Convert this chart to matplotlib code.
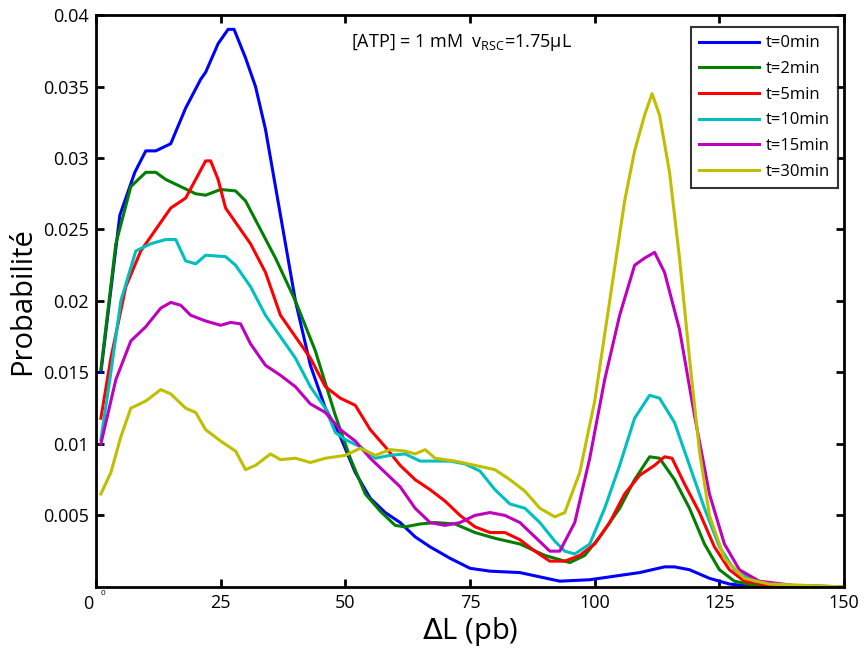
import numpy as np
import matplotlib
matplotlib.use('Agg')
import matplotlib.pyplot as plt

plt.rcParams['font.family'] = ['Open Sans', 'DejaVu Sans']

# Daten
x0 = [1, 4.8, 7.8, 10, 12, 15, 18, 21, 22, 24.5, 26.5, 27.7, 30, 32, 34, 37, 40, 43, 46, 49,
      52, 55, 58, 61, 64, 67, 71, 75, 79, 85, 89, 93, 99, 103, 109, 114, 116, 119, 123, 127, 131, 140, 150]
y0 = [0.015, 0.026, 0.029, 0.0305, 0.0305, 0.031, 0.0335, 0.0355, 0.036, 0.038, 0.039, 0.039, 0.037,
      0.035, 0.032, 0.026, 0.020, 0.0155, 0.0125, 0.0105, 0.008, 0.0062, 0.0052, 0.0045, 0.0035,
      0.0028, 0.002, 0.0013, 0.0011, 0.001, 0.0007, 0.0004, 0.0005, 0.0007, 0.001, 0.0014, 0.0014,
      0.0012, 0.0006, 0.0002, 0.00005, 0.0, 0.0]

x2 = [1, 4, 7, 10, 12, 14, 17, 20, 22, 25, 28, 30, 33, 36, 40, 44, 48, 51, 54, 57, 60, 62, 65, 68,
      72, 76, 80, 85, 90, 95, 98, 101, 105, 108, 111, 113, 116, 119, 122, 125, 128, 132, 140, 150]
y2 = [0.0152, 0.024, 0.028, 0.029, 0.029, 0.0285, 0.028, 0.0275, 0.0274, 0.0278, 0.0277, 0.027,
      0.025, 0.023, 0.020, 0.0165, 0.012, 0.009, 0.0065, 0.0053, 0.0043, 0.0042, 0.0044, 0.0045,
      0.0044, 0.0038, 0.0034, 0.003, 0.0022, 0.0017, 0.0022, 0.0035, 0.0055, 0.0075, 0.0091, 0.009,
      0.0075, 0.0055, 0.003, 0.0012, 0.0004, 0.0001, 0.0, 0.0]

x5 = [1, 3, 6, 9, 12, 15, 18, 20, 22, 23, 24.5, 26, 28, 31, 34, 37, 40, 43, 46, 49, 52, 55, 58,
      61, 64, 67, 70, 73, 76, 79, 82, 85, 88, 91, 94, 97, 100, 103, 106, 109, 112, 114, 115.5,
      118, 121, 124, 127, 130, 135, 150]
y5 = [0.0118, 0.016, 0.021, 0.0235, 0.025, 0.0265, 0.0272, 0.0285, 0.0298, 0.0298, 0.0285,
      0.0265, 0.0255, 0.024, 0.022, 0.019, 0.0175, 0.016, 0.014, 0.0132, 0.0127, 0.011, 0.0098,
      0.0085, 0.0075, 0.0068, 0.006, 0.005, 0.0042, 0.0038, 0.0038, 0.0033, 0.0025, 0.0018,
      0.0018, 0.0022, 0.003, 0.0045, 0.0065, 0.0078, 0.0085, 0.0091, 0.009, 0.0072, 0.0052,
      0.0028, 0.0012, 0.0004, 0.0001, 0.0]

x10 = [1, 3, 5, 8, 11, 14, 16, 18, 20, 22, 26, 28, 31, 34, 37, 40, 43, 46, 48, 50, 53, 56, 59,
       62, 65, 68, 71, 74, 77, 80, 83, 86, 89, 92, 94, 96, 99, 102, 105, 108, 111, 113, 116, 119,
       122, 125, 128, 132, 138, 150]
y10 = [0.0103, 0.015, 0.020, 0.0235, 0.024, 0.0243, 0.0243, 0.0228, 0.0226, 0.0232, 0.0231,
       0.0225, 0.021, 0.019, 0.0175, 0.016, 0.014, 0.0125, 0.0108, 0.0103, 0.0098, 0.009, 0.0092,
       0.0093, 0.0088, 0.0088, 0.0088, 0.0086, 0.0081, 0.0068, 0.0058, 0.0055, 0.0045, 0.0032,
       0.0025, 0.0023, 0.003, 0.0055, 0.0085, 0.0118, 0.0134, 0.0132, 0.0115, 0.0085, 0.0055,
       0.0028, 0.0012, 0.0004, 0.0001, 0.0]

x15 = [1, 4, 7, 10, 13, 15, 17, 19, 22, 25, 27, 29, 31, 34, 37, 40, 43, 46, 49, 52, 55, 58, 61,
       64, 67, 70, 73, 76, 79, 82, 85, 88, 91, 93, 96, 99, 102, 105, 108, 110, 112, 114, 117, 120,
       123, 126, 129, 133, 140, 150]
y15 = [0.010, 0.0145, 0.0172, 0.0182, 0.0195, 0.0199, 0.0197, 0.019, 0.0186, 0.0183, 0.0185,
       0.0184, 0.017, 0.0155, 0.0148, 0.014, 0.0128, 0.0122, 0.011, 0.0102, 0.009, 0.008, 0.007,
       0.0055, 0.0045, 0.0043, 0.0045, 0.005, 0.0052, 0.005, 0.0045, 0.0035, 0.0025, 0.0025,
       0.0045, 0.009, 0.0145, 0.019, 0.0225, 0.023, 0.0234, 0.022, 0.018, 0.012, 0.0065, 0.003,
       0.0012, 0.0004, 0.0001, 0.0]

x30 = [1, 3, 5, 7, 10, 13, 15, 18, 20, 22, 25, 28, 30, 32, 35, 37, 40, 43, 46, 50, 53, 56, 59,
       62, 64, 66, 68, 72, 76, 80, 83, 86, 89, 92, 94, 97, 100, 103, 106, 108, 110, 111.5, 113,
       115, 117, 119, 121, 123, 126, 130, 135, 150]
y30 = [0.0065, 0.008, 0.0105, 0.0125, 0.013, 0.0138, 0.0135, 0.0125, 0.0122, 0.011, 0.0102,
       0.0095, 0.0082, 0.0085, 0.0093, 0.0089, 0.009, 0.0087, 0.009, 0.0092, 0.0097, 0.0092,
       0.0096, 0.0095, 0.0093, 0.0096, 0.009, 0.0088, 0.0085, 0.0082, 0.0075, 0.0067, 0.0055,
       0.0049, 0.0052, 0.008, 0.013, 0.020, 0.027, 0.0305, 0.033, 0.0345, 0.033, 0.029, 0.023,
       0.016, 0.0095, 0.005, 0.002, 0.0006, 0.0002, 0.0]

labels = ['t=0min', 't=2min', 't=5min', 't=10min', 't=15min', 't=30min']
farben = ['#0000FF', '#008000', '#FF0000', '#00BFBF', '#BF00BF', '#BFBF00']
serien = [(x0, y0), (x2, y2), (x5, y5), (x10, y10), (x15, y15), (x30, y30)]

fig = plt.figure(figsize=(8.64, 6.55), dpi=100)
ax = fig.add_axes([0.111, 0.104, 0.866, 0.873])

for (x, y), c, l in zip(serien, farben, labels):
    ax.plot(x, y, color=c, lw=2.2, label=l)

ax.set_xlim(0, 150)
ax.set_ylim(0, 0.04)
ax.set_xticks([0, 25, 50, 75, 100, 125, 150])
ax.set_xticklabels(['', '25', '50', '75', '100', '125', '150'])
yt = [0.005, 0.01, 0.015, 0.02, 0.025, 0.03, 0.035, 0.04]
ax.set_yticks(yt)
ax.set_yticklabels(['0.005', '0.01', '0.015', '0.02', '0.025', '0.03', '0.035', '0.04'])
ax.tick_params(direction='in', length=6, width=2, labelsize=13, top=True, right=True, pad=5)
for s in ax.spines.values():
    s.set_linewidth(2)

# MATLAB-typische "0" Beschriftungen
ax.text(-1.5, -0.0006, '0', fontsize=13, ha='center', va='top')
ax.text(1.5, -0.0002, '0', fontsize=6, ha='center', va='top')

ax.set_xlabel(r'$\Delta$L (pb)', fontsize=21, labelpad=2)
ax.set_ylabel('Probabilité', fontsize=21, labelpad=4)

ax.text(0.341, 0.952, r'[ATP] = 1 mM  v$_{\mathregular{RSC}}$=1.75µL', transform=ax.transAxes,
        fontsize=13, ha='left', va='center')

leg = ax.legend(loc='upper right', bbox_to_anchor=(0.992, 0.979), fontsize=12, frameon=True,
                fancybox=False, handlelength=3.6, handletextpad=0.4, labelspacing=0.58,
                borderpad=0.5, borderaxespad=0)
leg.get_frame().set_edgecolor('black')
leg.get_frame().set_linewidth(1.5)

plt.savefig('out.png', dpi=100)
